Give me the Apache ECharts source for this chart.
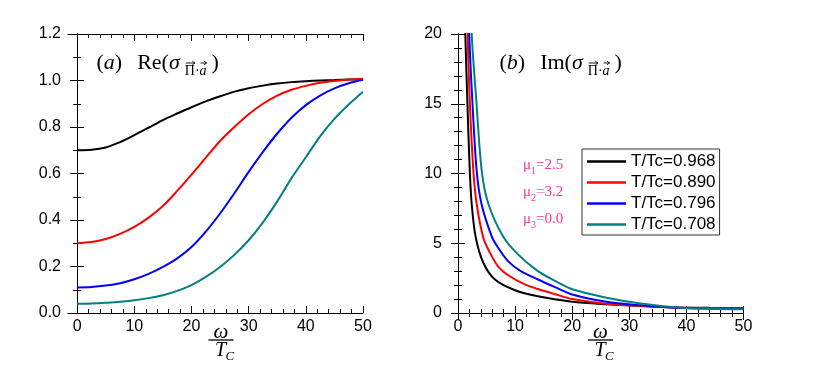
<!DOCTYPE html>
<html>
<head>
<meta charset="utf-8">
<script src="https://cdn.jsdelivr.net/npm/echarts@6/dist/echarts.min.js"></script>
<style>html,body{margin:0;padding:0;background:#fff;}#c{width:817px;height:372px;}</style>
</head>
<body>
<div id="c"></div>
<script>
// ---------- data ----------
const seriesNames = ['T/Tc=0.968', 'T/Tc=0.890', 'T/Tc=0.796', 'T/Tc=0.708'];

// panel (a): Re(sigma)
const reX = [0, 2.5, 5, 7.5, 10, 12.5, 15, 17.5, 20, 22.5, 25, 27.5, 30, 32.5, 35, 37.5, 40, 42.5, 45, 47.5, 50];
const reBlack = [0.700, 0.702, 0.712, 0.735, 0.765, 0.797, 0.830, 0.858, 0.885, 0.910, 0.932, 0.952, 0.967, 0.978, 0.987, 0.993, 0.997, 1.000, 1.002, 1.004, 1.005];
const reRed   = [0.300, 0.305, 0.318, 0.340, 0.370, 0.410, 0.460, 0.525, 0.595, 0.668, 0.740, 0.800, 0.855, 0.900, 0.935, 0.960, 0.977, 0.990, 0.998, 1.004, 1.008];
const reBlue  = [0.110, 0.112, 0.118, 0.128, 0.145, 0.168, 0.198, 0.235, 0.284, 0.350, 0.428, 0.515, 0.607, 0.693, 0.772, 0.840, 0.894, 0.935, 0.966, 0.988, 1.003];
const reTeal  = [0.040, 0.041, 0.044, 0.048, 0.055, 0.064, 0.076, 0.095, 0.120, 0.155, 0.198, 0.250, 0.313, 0.390, 0.480, 0.580, 0.670, 0.760, 0.835, 0.897, 0.952];

// panel (b): Im(sigma)
const imXBlack = [0.9, 1.28, 1.63, 2.03, 2.39, 3.09, 4.43, 6.47, 10, 14, 20, 26, 32, 38, 44, 50];
const imBlack  = [28, 20, 15.3, 10.5, 7.85, 5.46, 3.6, 2.4, 1.63, 1.2, 0.8, 0.62, 0.5, 0.4, 0.37, 0.36];
const imXRed   = [1.3, 1.68, 2.05, 2.68, 3.26, 4.43, 5.5, 7, 9, 11.7, 14, 17, 20, 26, 32, 38, 44, 50];
const imRed    = [27, 20, 15.3, 10.24, 7.85, 5.4, 4.4, 3.35, 2.65, 2.05, 1.72, 1.35, 1.0, 0.66, 0.5, 0.4, 0.36, 0.35];
const imXBlue  = [1.6, 1.97, 2.5, 3.26, 4.1, 5.9, 7, 8.8, 11, 14, 17, 20, 26, 32, 38, 44, 50];
const imBlue   = [27, 20, 15.3, 10.24, 7.85, 5.5, 4.7, 3.7, 3.0, 2.4, 1.85, 1.33, 0.8, 0.55, 0.38, 0.32, 0.3];
const imXTeal  = [2.0, 2.4, 3.2, 4.14, 5.3, 7.93, 10.5, 14, 17, 20, 26, 32, 38, 44, 50];
const imTeal   = [27, 20, 15.3, 10.24, 7.85, 5.46, 4.2, 3.0, 2.3, 1.7, 1.1, 0.68, 0.42, 0.3, 0.26];

// ticks
const reXMajor = [0, 10, 20, 30, 40, 50];
const reXMinor = [2, 4, 6, 8, 12, 14, 16, 18, 22, 24, 26, 28, 32, 34, 36, 38, 42, 44, 46, 48];

// ---------- chart ----------
const colors = ['#000000', '#ff0000', '#0000ff', '#008080'];
const SANS = '"Liberation Sans", Arial, sans-serif';
const SERIF = '"Liberation Serif", "Times New Roman", serif';
const zip = (xs, ys) => xs.map((x, i) => [x, ys[i]]);

const lineAx = { show: true, lineStyle: { color: '#000', width: 1 } };
const lbl = { color: '#000', fontSize: 16, fontFamily: SANS };

function xAx(grid, pos, opts) {
  return Object.assign({ type: 'value', gridIndex: grid, position: pos, splitLine: { show: false }, axisLine: lineAx }, opts);
}

const chart = echarts.init(document.getElementById('c'), null, { renderer: 'canvas' });

const grids = [
  { left: 68, top: 34, width: 295, height: 279 },
  { left: 458, top: 34, width: 285.5, height: 279 }
];

const reMin = -1.6;
const xAxes = [
  xAx(0, 'bottom', { min: reMin, max: 50,
    axisTick: { show: true, inside: true, length: 7, customValues: reXMajor, lineStyle: { color: '#000' } },
    axisLabel: Object.assign({ show: true, margin: 6, customValues: reXMajor }, lbl) }),
  xAx(0, 'bottom', { min: reMin, max: 50, axisLine: { show: false },
    axisTick: { show: true, inside: true, length: 4, customValues: reXMinor, lineStyle: { color: '#000' } },
    axisLabel: { show: false } }),
  xAx(0, 'top', { min: reMin, max: 50,
    axisTick: { show: true, inside: true, length: 7, customValues: reXMajor, lineStyle: { color: '#000' } },
    axisLabel: { show: false } }),
  xAx(0, 'top', { min: reMin, max: 50, axisLine: { show: false },
    axisTick: { show: true, inside: true, length: 4, customValues: reXMinor, lineStyle: { color: '#000' } },
    axisLabel: { show: false } }),
  xAx(1, 'bottom', { min: 0, max: 50, interval: 10,
    axisTick: { show: true, inside: true, length: 7, lineStyle: { color: '#000' } },
    minorTick: { show: true, splitNumber: 5, length: 4, lineStyle: { color: '#000' } },
    axisLabel: Object.assign({ show: true, margin: 6 }, lbl) }),
  xAx(1, 'top', { min: 0, max: 50, interval: 10,
    axisTick: { show: true, inside: true, length: 7, lineStyle: { color: '#000' } },
    minorTick: { show: true, splitNumber: 5, length: 4, lineStyle: { color: '#000' } },
    axisLabel: { show: false } })
];

function yAx(grid, pos, min, max, interval, split, showLabel, margin, fmt) {
  return {
    type: 'value', gridIndex: grid, position: pos, min: min, max: max, interval: interval,
    splitLine: { show: false }, axisLine: lineAx,
    axisTick: { show: true, inside: true, length: 7, lineStyle: { color: '#000' } },
    minorTick: { show: true, splitNumber: split, length: 4, lineStyle: { color: '#000' } },
    axisLabel: showLabel ? Object.assign({ show: true, margin: margin, formatter: fmt }, lbl) : { show: false }
  };
}

const yAxes = [
  yAx(0, 'left', 0, 1.2, 0.2, 2, true, 7, v => v.toFixed(1)),
  yAx(0, 'right', 0, 1.2, 0.2, 2, false),
  yAx(1, 'left', 0, 20, 5, 5, true, 16, v => String(v)),
  yAx(1, 'right', 0, 20, 5, 5, false)
];

function mkSeries(name, data, color, xi, yi, w) {
  return { name: name, type: 'line', xAxisIndex: xi, yAxisIndex: yi, data: data,
    showSymbol: false, symbol: 'none', smooth: 0.3, clip: true,
    lineStyle: { color: color, width: w }, itemStyle: { color: color } };
}

const series = [
  mkSeries(seriesNames[0], zip(reX, reBlack), colors[0], 0, 0, 2),
  mkSeries(seriesNames[1], zip(reX, reRed), colors[1], 0, 0, 2),
  mkSeries(seriesNames[2], zip(reX, reBlue), colors[2], 0, 0, 2),
  mkSeries(seriesNames[3], zip(reX, reTeal), colors[3], 0, 0, 2),
  mkSeries(seriesNames[0], zip(imXBlack, imBlack), colors[0], 4, 2, 2),
  mkSeries(seriesNames[1], zip(imXRed, imRed), colors[1], 4, 2, 2),
  mkSeries(seriesNames[2], zip(imXBlue, imBlue), colors[2], 4, 2, 2),
  mkSeries(seriesNames[3], zip(imXTeal, imTeal), colors[3], 4, 2, 2)
];

// ---------- annotation text (titles, fraction, mu labels) ----------
const mctx = document.createElement('canvas').getContext('2d');
function tw(text, size, italic) {
  mctx.font = (italic ? 'italic ' : '') + size + 'px ' + SERIF;
  return mctx.measureText(text).width;
}
function panelTitle(x0, cy, letter, fn) {
  const parts = [
    { t: '(', s: 22 }, { t: letter, s: 22, i: true }, { t: ')', s: 22 }, { gap: 15 },
    { t: fn + '(', s: 22 }, { t: 'σ', s: 22, i: true }, { gap: 5 },
    { t: 'Π', s: 14, sub: true, arrow: true }, { t: '·', s: 14, sub: true }, { t: 'a', s: 14, i: true, sub: true, arrow: true },
    { gap: 5 }, { t: ')', s: 22 }
  ];
  const els = [];
  let x = x0;
  parts.forEach(p => {
    if (p.gap) { x += p.gap; return; }
    const w = tw(p.t, p.s, p.i);
    const y = p.sub ? cy + 8 : cy;
    els.push({ type: 'text', x: x, y: y, style: { text: p.t, fontFamily: SERIF, fontSize: p.s, fontStyle: p.i ? 'italic' : 'normal', align: 'left', verticalAlign: 'middle', fill: '#000' } });
    if (p.arrow) {
      const ay = y - 8.5, xa = x + 1, xb = x + w;
      els.push({ type: 'line', shape: { x1: xa, y1: ay, x2: xb, y2: ay }, style: { stroke: '#000', lineWidth: 0.9 } });
      els.push({ type: 'polyline', shape: { points: [[xb - 2.5, ay - 1.8], [xb, ay], [xb - 2.5, ay + 1.8]] }, style: { stroke: '#000', lineWidth: 0.9, fill: null } });
    }
    x += w;
  });
  return els;
}

const muRich = {
  m: { fontFamily: SERIF, fontSize: 15, lineHeight: 15, verticalAlign: 'top', fill: '#ff3399' },
  s: { fontFamily: SERIF, fontSize: 10, lineHeight: 10, verticalAlign: 'top', padding: [8, 0, 0, 0], fill: '#ff3399' }
};

function fraction(cx) {
  return [
    { type: 'text', x: cx, y: 332, style: { text: 'ω', fontFamily: SERIF, fontStyle: 'italic', fontSize: 21, align: 'center', verticalAlign: 'middle', fill: '#000' } },
    { type: 'line', shape: { x1: cx - 12.5, y1: 340, x2: cx + 12.5, y2: 340 }, style: { stroke: '#000', lineWidth: 1.3 } },
    { type: 'text', x: cx - 0.5, y: 351, style: { text: 'T', fontFamily: SERIF, fontStyle: 'italic', fontSize: 20, align: 'center', verticalAlign: 'middle', fill: '#000' } },
    { type: 'text', x: cx + 4.5, y: 357, style: { text: 'C', fontFamily: SERIF, fontStyle: 'italic', fontSize: 13, align: 'left', verticalAlign: 'middle', fill: '#000' } }
  ];
}

const graphic = [].concat(
  panelTitle(96.5, 63.5, 'a', 'Re'),
  panelTitle(499.5, 63.5, 'b', 'Im'),
  [
    { type: 'text', left: 523, top: 158, style: { text: '{m|μ}{s|1}{m|=2.5}', rich: muRich } },
    { type: 'text', left: 523, top: 185, style: { text: '{m|μ}{s|2}{m|=3.2}', rich: muRich } },
    { type: 'text', left: 523, top: 212, style: { text: '{m|μ}{s|3}{m|=0.0}', rich: muRich } }
  ],
  fraction(221), fraction(600.5)
);

chart.setOption({
  animation: false,
  backgroundColor: '#fff',
  grid: grids,
  xAxis: xAxes,
  yAxis: yAxes,
  legend: {
    orient: 'vertical', left: 582, top: 149,
    data: seriesNames,
    icon: 'rect',
    itemWidth: 39, itemHeight: 2.5, itemGap: 0,
    padding: [2, 4, 0, 5],
    borderColor: '#333', borderWidth: 1, borderRadius: 0,
    backgroundColor: '#fff',
    selectedMode: false,
    textStyle: { fontSize: 17, fontFamily: SANS, color: '#000', lineHeight: 21 }
  },
  graphic: graphic,
  series: series
});
</script>
</body>
</html>
